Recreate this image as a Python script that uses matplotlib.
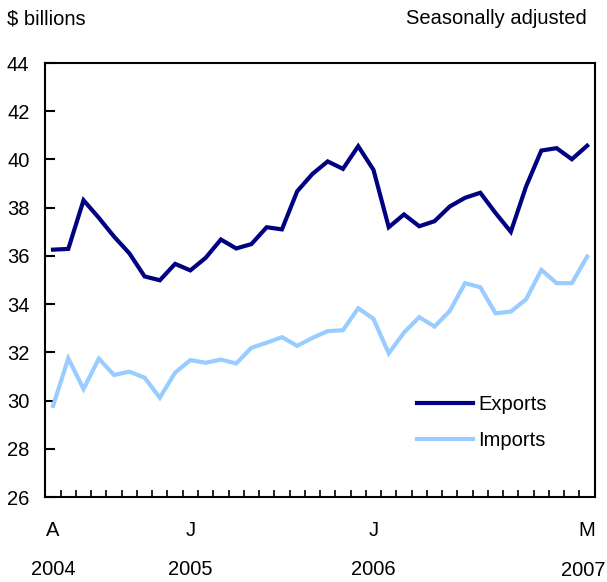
import matplotlib
matplotlib.use("Agg")
import matplotlib.pyplot as plt
import matplotlib.transforms as mtransforms

plt.rcParams['font.family'] = ['Liberation Sans', 'DejaVu Sans']

# Monthly, April 2004 to March 2007 ($ billions, seasonally adjusted)
exports = [36.26, 36.29, 38.31, 37.58, 36.80, 36.11, 35.15, 34.99, 35.67, 35.40,
           35.92, 36.68, 36.31, 36.49, 37.19, 37.10, 38.68, 39.40, 39.92, 39.61,
           40.55, 39.57, 37.19, 37.72, 37.23, 37.44, 38.05, 38.41, 38.62, 37.78,
           37.00, 38.88, 40.37, 40.47, 40.01, 40.57]
imports = [29.78, 31.75, 30.48, 31.74, 31.06, 31.20, 30.95, 30.12, 31.16, 31.68,
           31.57, 31.70, 31.54, 32.19, 32.40, 32.63, 32.27, 32.60, 32.88, 32.92,
           33.83, 33.39, 31.96, 32.82, 33.46, 33.07, 33.72, 34.87, 34.70, 33.62,
           33.69, 34.20, 35.42, 34.87, 34.87, 35.97]
month_ticks = [0, 9, 21, 35]
month_labels = ['A', 'J', 'J', 'M']
year_labels = ['2004', '2005', '2006', '2007']
yticks = list(range(26, 45, 2))

export_color = '#000080'
import_color = '#99ccff'
fs = 14.5

fig = plt.figure(figsize=(6.07, 5.82), dpi=100)
ax = fig.add_axes([0.0748, 0.146, 0.905, 0.7457])

x = list(range(len(exports)))
ax.plot(x, exports, color=export_color, lw=3, solid_joinstyle='miter', label='Exports')
ax.plot(x, imports, color=import_color, lw=3, solid_joinstyle='miter', label='Imports')

ax.set_xlim(-0.5, len(exports) - 0.5)
ax.set_ylim(26, 44)

ax.set_yticks(yticks)
ax.set_yticklabels([str(v) for v in yticks], fontsize=fs)
ax.tick_params(axis='y', direction='in', length=7, width=1.5, pad=11.5)

# month boundaries as small inward ticks, no labels
ax.set_xticks([i - 0.5 for i in range(len(exports) + 1)])
ax.set_xticklabels([])
ax.tick_params(axis='x', direction='in', length=5, width=1.2)

for sp in ax.spines.values():
    sp.set_linewidth(1.5)

trans = mtransforms.blended_transform_factory(ax.transData, ax.transAxes)
last = len(month_ticks) - 1
for k, (pos, m, yr) in enumerate(zip(month_ticks, month_labels, year_labels)):
    ax.text(pos, -0.076, m, transform=trans, ha='center', va='center', fontsize=fs)
    if k == last:
        # last year label sits flush with the right edge of the figure
        fig.text(0.997, 1 - 570 / 582, yr, ha='right', va='center', fontsize=fs)
    else:
        ax.text(pos, -0.168, yr, transform=trans, ha='center', va='center', fontsize=fs)

fig.text(0.011, 0.968, '$ billions', ha='left', va='center', fontsize=fs)
fig.text(0.966, 0.968, 'Seasonally adjusted', ha='right', va='center', fontsize=fs)

ax.legend(loc='center left', bbox_to_anchor=(0.677, 0.172), frameon=False,
          borderaxespad=0, borderpad=0, fontsize=fs, handlelength=2.78,
          handletextpad=0.25, labelspacing=0.84)

fig.savefig('out.png', dpi=100)
